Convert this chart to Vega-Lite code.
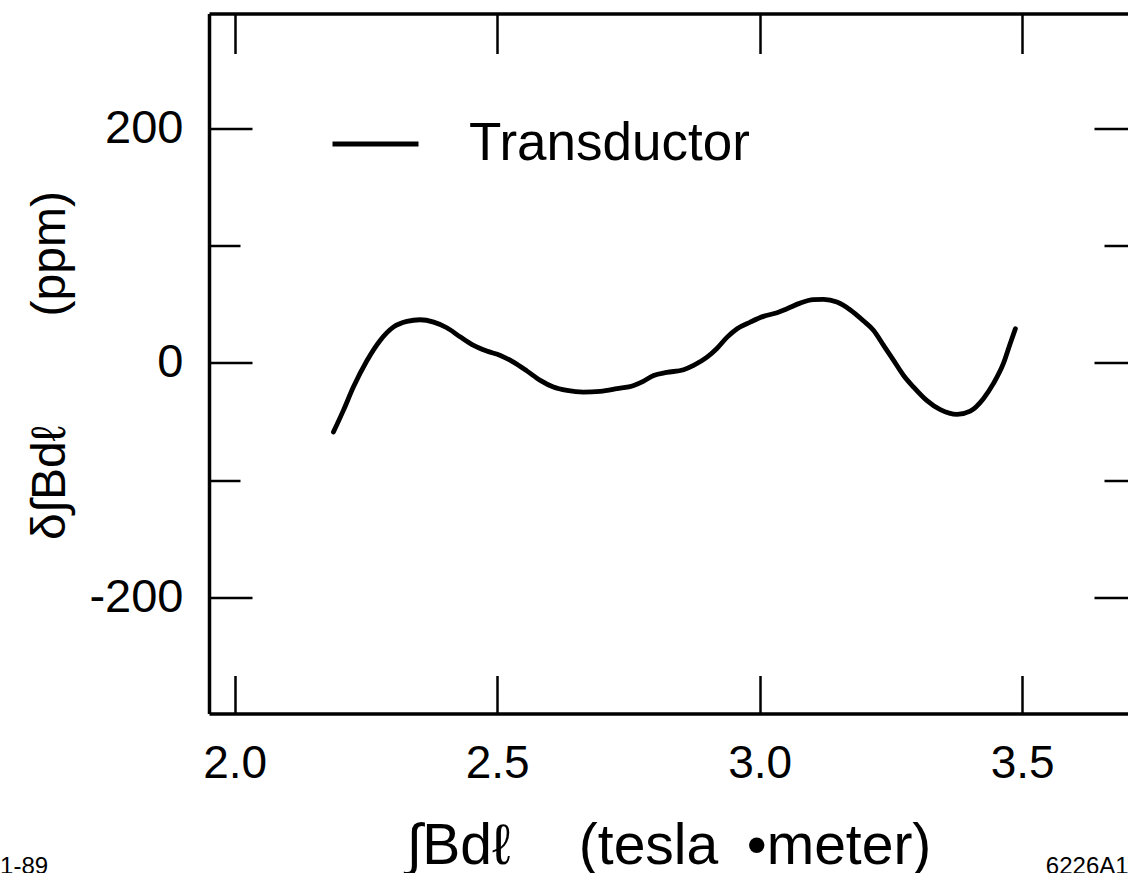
{
  "$schema": "https://vega.github.io/schema/vega-lite/v6.json",
  "width": 919,
  "height": 700,
  "autosize": {"type": "none"},
  "padding": {"left": 209, "top": 13.5, "right": 0, "bottom": 159.5},
  "background": "white",
  "config": {
    "view": {"stroke": null},
    "font": "Liberation Sans",
    "axis": {
      "grid": false,
      "labelFont": "Liberation Sans",
      "titleFont": "Liberation Sans",
      "labelColor": "#000000",
      "titleColor": "#000000",
      "tickColor": "#000000",
      "domainColor": "#000000",
      "titleFontWeight": "normal",
      "domainWidth": 3.5,
      "tickWidth": 2.5,
      "labelOverlap": false
    }
  },
  "resolve": {"axis": {"x": "independent", "y": "independent"}},
  "layer": [
    {
      "data": {
        "values": [
          {"x": 2.188, "y": -59.0, "series": "Transductor"},
          {"x": 2.207, "y": -40.5, "series": "Transductor"},
          {"x": 2.226, "y": -20.6, "series": "Transductor"},
          {"x": 2.252, "y": 2.1, "series": "Transductor"},
          {"x": 2.277, "y": 19.2, "series": "Transductor"},
          {"x": 2.302, "y": 30.5, "series": "Transductor"},
          {"x": 2.328, "y": 35.4, "series": "Transductor"},
          {"x": 2.353, "y": 36.8, "series": "Transductor"},
          {"x": 2.379, "y": 34.8, "series": "Transductor"},
          {"x": 2.404, "y": 30.0, "series": "Transductor"},
          {"x": 2.430, "y": 22.0, "series": "Transductor"},
          {"x": 2.455, "y": 14.9, "series": "Transductor"},
          {"x": 2.480, "y": 10.1, "series": "Transductor"},
          {"x": 2.506, "y": 6.4, "series": "Transductor"},
          {"x": 2.531, "y": 0.7, "series": "Transductor"},
          {"x": 2.557, "y": -7.0, "series": "Transductor"},
          {"x": 2.582, "y": -14.9, "series": "Transductor"},
          {"x": 2.607, "y": -20.6, "series": "Transductor"},
          {"x": 2.633, "y": -23.5, "series": "Transductor"},
          {"x": 2.664, "y": -24.9, "series": "Transductor"},
          {"x": 2.696, "y": -24.3, "series": "Transductor"},
          {"x": 2.728, "y": -22.0, "series": "Transductor"},
          {"x": 2.760, "y": -19.2, "series": "Transductor"},
          {"x": 2.779, "y": -15.5, "series": "Transductor"},
          {"x": 2.798, "y": -10.7, "series": "Transductor"},
          {"x": 2.823, "y": -8.1, "series": "Transductor"},
          {"x": 2.855, "y": -5.8, "series": "Transductor"},
          {"x": 2.874, "y": -2.1, "series": "Transductor"},
          {"x": 2.899, "y": 4.7, "series": "Transductor"},
          {"x": 2.918, "y": 12.1, "series": "Transductor"},
          {"x": 2.938, "y": 22.0, "series": "Transductor"},
          {"x": 2.957, "y": 29.2, "series": "Transductor"},
          {"x": 2.982, "y": 34.8, "series": "Transductor"},
          {"x": 3.007, "y": 39.7, "series": "Transductor"},
          {"x": 3.033, "y": 42.8, "series": "Transductor"},
          {"x": 3.052, "y": 46.2, "series": "Transductor"},
          {"x": 3.077, "y": 51.0, "series": "Transductor"},
          {"x": 3.102, "y": 53.9, "series": "Transductor"},
          {"x": 3.122, "y": 54.2, "series": "Transductor"},
          {"x": 3.147, "y": 51.9, "series": "Transductor"},
          {"x": 3.172, "y": 45.4, "series": "Transductor"},
          {"x": 3.198, "y": 35.7, "series": "Transductor"},
          {"x": 3.217, "y": 27.7, "series": "Transductor"},
          {"x": 3.236, "y": 14.9, "series": "Transductor"},
          {"x": 3.255, "y": 2.1, "series": "Transductor"},
          {"x": 3.274, "y": -10.7, "series": "Transductor"},
          {"x": 3.293, "y": -20.6, "series": "Transductor"},
          {"x": 3.318, "y": -32.0, "series": "Transductor"},
          {"x": 3.344, "y": -39.9, "series": "Transductor"},
          {"x": 3.376, "y": -43.9, "series": "Transductor"},
          {"x": 3.401, "y": -41.1, "series": "Transductor"},
          {"x": 3.426, "y": -30.5, "series": "Transductor"},
          {"x": 3.445, "y": -17.7, "series": "Transductor"},
          {"x": 3.464, "y": -0.7, "series": "Transductor"},
          {"x": 3.477, "y": 16.4, "series": "Transductor"},
          {"x": 3.487, "y": 29.2, "series": "Transductor"}
        ]
      },
      "mark": {"type": "line", "interpolate": "monotone", "strokeWidth": 4.8, "strokeCap": "round", "strokeJoin": "round"},
      "encoding": {
        "x": {
          "field": "x", "type": "quantitative",
          "scale": {"domain": [1.951, 3.7015], "nice": false, "zero": false},
          "axis": {
            "orient": "bottom",
            "values": [2.0, 2.5, 3.0, 3.5],
            "format": ".1f",
            "tickSize": -38,
            "labelPadding": 66,
            "labelFontSize": 46,
            "title": "∫Bdℓ\u2003\u2009(tesla\u2002•meter)",
            "titleFontSize": 57,
            "titleBaseline": "alphabetic",
            "titleY": 150
          }
        },
        "y": {
          "field": "y", "type": "quantitative",
          "scale": {"domain": [-299, 298], "nice": false, "zero": false},
          "axis": {
            "orient": "left",
            "values": [-200, -100, 0, 100, 200],
            "tickSize": {"condition": {"test": "datum.value % 200 === 0", "value": -43}, "value": -31},
            "labelExpr": "datum.value % 200 === 0 ? '' + datum.value : ''",
            "labelPadding": 69,
            "labelFontSize": 47,
            "title": "δ∫Bdℓ\u2003\u2003 (ppm)",
            "titleFontSize": 48,
            "titleAngle": -90,
            "titleBaseline": "alphabetic",
            "titleAlign": "center",
            "titleX": -145,
            "titleY": 351.5
          }
        },
        "color": {
          "field": "series", "type": "nominal",
          "scale": {"range": ["#000000"]},
          "legend": {
            "title": null,
            "orient": "none",
            "legendX": 121,
            "legendY": 85,
            "padding": 0,
            "symbolType": "stroke",
            "symbolSize": 7396,
            "symbolStrokeWidth": 4.8,
            "symbolStrokeColor": "#000000",
            "labelFontSize": 53,
            "labelFont": "Liberation Sans",
            "labelColor": "#000000",
            "labelOffset": 48,
            "labelLimit": 600
          }
        }
      }
    },
    {
      "data": {
        "values": [
          {"x": 1.553, "y": -430, "note": "1-89"},
          {"x": 3.545, "y": -430, "note": "6226A1"}
        ]
      },
      "mark": {"type": "text", "align": "left", "baseline": "middle", "fontSize": 24, "font": "Liberation Sans", "color": "#000000"},
      "encoding": {
        "text": {"field": "note", "type": "nominal"},
        "x": {
          "field": "x", "type": "quantitative",
          "scale": {"domain": [1.951, 3.7015], "nice": false, "zero": false},
          "axis": {
            "orient": "top",
            "values": [2.0, 2.5, 3.0, 3.5],
            "tickSize": -40,
            "labels": false,
            "title": null
          }
        },
        "y": {
          "field": "y", "type": "quantitative",
          "scale": {"domain": [-299, 298], "nice": false, "zero": false},
          "axis": {
            "orient": "right",
            "values": [-200, -100, 0, 100, 200],
            "tickSize": {"condition": {"test": "datum.value % 200 === 0", "value": -34}, "value": -24},
            "labels": false,
            "domain": false,
            "title": null
          }
        }
      }
    }
  ]
}
